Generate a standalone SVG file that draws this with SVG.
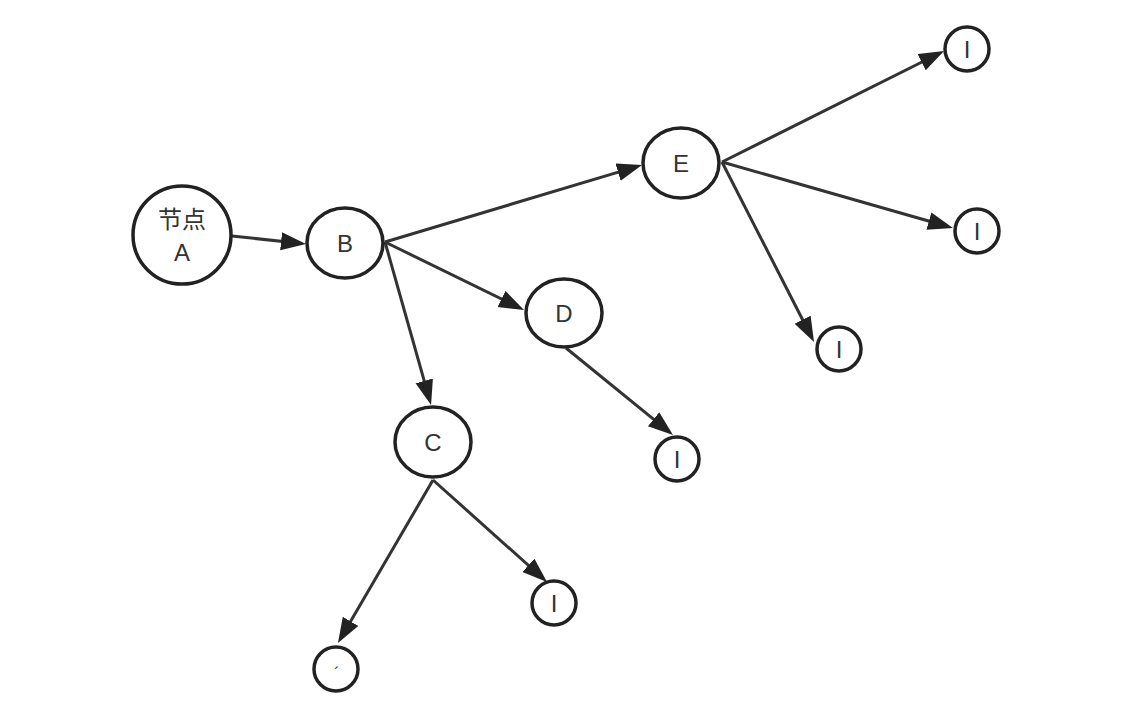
<svg xmlns="http://www.w3.org/2000/svg" width="1144" height="702" viewBox="0 0 1144 702">
<style>
.n{fill:#fff;stroke:#222;stroke-width:3.5}
.t{font-family:"Liberation Sans","Noto Sans CJK SC",sans-serif;font-size:24px;fill:#333;text-anchor:middle}
.e{stroke:#333;stroke-width:3;fill:none;marker-end:url(#ah)}
</style>
<defs>
<marker id="ah" markerUnits="userSpaceOnUse" markerWidth="26" markerHeight="20" refX="16" refY="9" orient="auto">
<path d="M0,0 L25,9 L0,18 z" fill="#222"/>
</marker>
</defs>
<rect width="1144" height="702" fill="#fff"/>
<g id="connectors">
<line class="e" x1="232" y1="236" x2="297" y2="243"/>
<line class="e" x1="385" y1="242" x2="633.4" y2="167.6"/>
<line class="e" x1="385" y1="242" x2="515.9" y2="306"/>
<line class="e" x1="385" y1="242" x2="428.6" y2="396.3"/>
<line class="e" x1="722" y1="162" x2="936" y2="55"/>
<line class="e" x1="722" y1="162" x2="944.3" y2="225.5"/>
<line class="e" x1="722" y1="162" x2="809.9" y2="334"/>
<line class="e" x1="566" y1="348" x2="666" y2="429.3"/>
<line class="e" x1="433" y1="480" x2="540.3" y2="576"/>
<line class="e" x1="433" y1="480" x2="342.5" y2="635.2"/>
</g>
<g id="nodeA"><circle class="n" cx="182" cy="235" r="49"/><text class="t" x="182" y="228">节点</text><text class="t" x="182" y="261">A</text></g>
<g id="nodeB"><ellipse class="n" cx="345" cy="243" rx="38" ry="35"/><text class="t" x="345" y="252">B</text></g>
<g id="nodeE"><ellipse class="n" cx="681" cy="163" rx="38" ry="35"/><text class="t" x="681" y="172">E</text></g>
<g id="nodeD"><ellipse class="n" cx="564" cy="313" rx="38" ry="34"/><text class="t" x="564" y="322">D</text></g>
<g id="nodeC"><ellipse class="n" cx="433" cy="442" rx="38" ry="35"/><text class="t" x="433" y="451">C</text></g>
<g id="nodeI1"><circle class="n" cx="967" cy="49" r="22"/><text class="t" x="967" y="58">I</text></g>
<g id="nodeI2"><circle class="n" cx="977" cy="231" r="22"/><text class="t" x="977" y="240">I</text></g>
<g id="nodeI3"><circle class="n" cx="839" cy="349" r="22"/><text class="t" x="839" y="358">I</text></g>
<g id="nodeI4"><circle class="n" cx="677" cy="459" r="22"/><text class="t" x="677" y="468">I</text></g>
<g id="nodeI5"><circle class="n" cx="554" cy="603" r="22"/><text class="t" x="554" y="612">I</text></g>
<g id="nodeF"><circle class="n" cx="336" cy="669" r="22"/><text class="t" x="337" y="679" style="font-size:16px">´</text></g>
</svg>
